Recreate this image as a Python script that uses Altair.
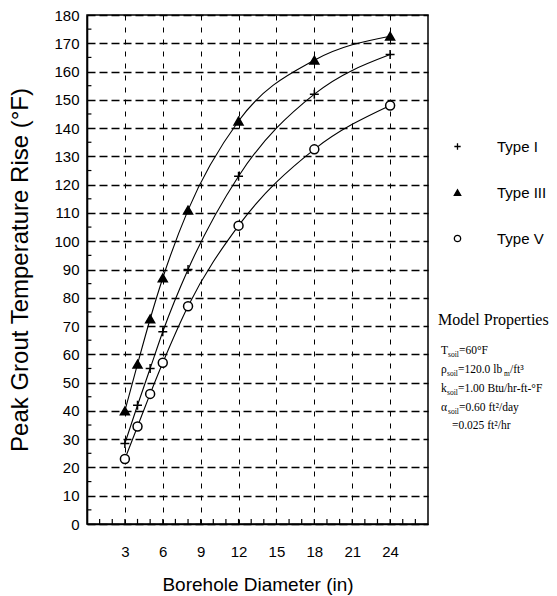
import altair as alt
import pandas as pd

# ---- data ----
diameters = [3, 4, 5, 6, 8, 12, 18, 24]
type_i = [28.5, 42, 55, 68, 90, 123, 152, 166]
type_iii = [40, 56.5, 72.5, 87, 111, 142.5, 164, 172.5]
type_v = [23, 34.5, 46, 57, 77, 105.5, 132.5, 148]
series_names = ["Type I", "Type III", "Type V"]

x_tick_values = [3, 6, 9, 12, 15, 18, 21, 24]
y_tick_values = [0, 10, 20, 30, 40, 50, 60, 70, 80, 90, 100, 110, 120, 130, 140, 150, 160, 170, 180]
x_minor_ticks = [1, 2, 3, 4, 5, 6, 7, 8, 9, 10, 11, 12, 13, 14, 15, 16, 17, 18, 19, 20, 21, 22, 23, 24, 25, 26]
y_minor_ticks = [5, 15, 25, 35, 45, 55, 65, 75, 85, 95, 105, 115, 125, 135, 145, 155, 165, 175]

rows = []
for name, vals in zip(series_names, [type_i, type_iii, type_v]):
    for d, v in zip(diameters, vals):
        rows.append({"type": name, "d": d, "rise": v})
df = pd.DataFrame(rows)

SANS = "Liberation Sans"
SERIF = "Liberation Serif"
W, H = 341, 509

xscale = alt.Scale(domain=[0, 27], nice=False, zero=False)
yscale = alt.Scale(domain=[0, 180], nice=False, zero=False)

plus_path = "M-1,0H1M0,-1V1"
shape_scale = alt.Scale(domain=series_names, range=[plus_path, "triangle-up", "circle"])
fill_scale = alt.Scale(domain=series_names, range=["transparent", "black", "white"])
stroke_scale = alt.Scale(domain=series_names, range=["black", "black", "black"])
legend = alt.Legend(
    title=None, orient="none", legendX=363, legendY=124, direction="vertical",
    labelFont=SANS, labelFontSize=15, labelColor="black", labelOffset=32,
    rowPadding=30, symbolSize=40, symbolStrokeColor="black", symbolStrokeWidth=1.3,
)

x_axis = alt.Axis(
    values=x_tick_values, tickCount=30, grid=True, gridDash=[5, 7], gridColor="black",
    gridWidth=1, tickSize=0, labelPadding=20, labelFont=SANS, labelFontSize=15,
    labelColor="black", labelOverlap=False,
    title="Borehole Diameter (in)", titleFont=SANS, titleFontSize=19,
    titleFontWeight="normal", titleColor="black", titlePadding=16,
    domainColor="black", domainWidth=1.6,
)
y_axis = alt.Axis(
    values=y_tick_values, tickCount=40, grid=True, gridDash=[8, 4], gridColor="black",
    gridWidth=1.4, tickSize=0, labelPadding=8, labelFont=SANS, labelFontSize=15,
    labelColor="black", labelOverlap=False,
    title="Peak Grout Temperature Rise (°F)", titleFont=SANS, titleFontSize=24,
    titleFontWeight="normal", titleColor="black", titlePadding=21,
    domainColor="black", domainWidth=1.6,
)

lines = alt.Chart(df).mark_line(interpolate="monotone", color="black", strokeWidth=1.1).encode(
    x=alt.X("d:Q", scale=xscale, axis=x_axis),
    y=alt.Y("rise:Q", scale=yscale, axis=y_axis),
    detail="type:N",
)
points = alt.Chart(df).mark_point(size=80, strokeWidth=1.5, opacity=1).encode(
    x=alt.X("d:Q", scale=xscale, axis=x_axis),
    y=alt.Y("rise:Q", scale=yscale, axis=y_axis),
    shape=alt.Shape("type:N", scale=shape_scale, legend=legend),
    fill=alt.Fill("type:N", scale=fill_scale, legend=legend),
    stroke=alt.Stroke("type:N", scale=stroke_scale, legend=legend),
)

# minor ticks drawn inward
xt = pd.DataFrame({"v": x_minor_ticks})
yt = pd.DataFrame({"v": y_minor_ticks})
xticks = alt.Chart(xt).mark_rule(color="black", strokeWidth=1.2).encode(
    x=alt.X("v:Q", scale=xscale, axis=x_axis),
    y=alt.YDatum(0, type="quantitative", scale=yscale, axis=y_axis),
    y2=alt.Y2Datum(1.8),
)
yticks = alt.Chart(yt).mark_rule(color="black", strokeWidth=1.2).encode(
    y=alt.Y("v:Q", scale=yscale, axis=y_axis),
    x=alt.XDatum(0, type="quantitative", scale=xscale, axis=x_axis),
    x2=alt.X2Datum(0.35),
)

# Model Properties annotation (pixel offsets relative to plot origin)
def txt(s, x, y, size, font=SERIF):
    return alt.Chart(pd.DataFrame({"t": [s]})).mark_text(
        align="left", baseline="middle", font=font, fontSize=size, color="black"
    ).encode(text="t:N", x=alt.value(x), y=alt.value(y))

MAIN = 11.5
SUB = 7.5
ann = [
    txt("Model Properties", 351, 305, 16),
    txt("T", 354, 336, MAIN), txt("soil", 361, 340, SUB), txt("=60°F", 372, 336, MAIN),
    txt("ρ", 354, 355, MAIN), txt("soil", 360, 359, SUB), txt("=120.0 lb", 371, 355, MAIN),
    txt("m", 417, 359, SUB), txt("/ft³", 423, 355, MAIN),
    txt("k", 354, 374, MAIN), txt("soil", 360, 378, SUB), txt("=1.00 Btu/hr-ft-°F", 371, 374, MAIN),
    txt("α", 354, 393, MAIN), txt("soil", 361, 397, SUB), txt("=0.60 ft²/day", 372, 393, MAIN),
    txt("=0.025 ft²/hr", 365, 411, MAIN),
]

chart = alt.layer(lines, xticks, yticks, points, *ann).properties(
    width=W, height=H,
    autosize=alt.AutoSizeParams(type="none"),
    padding={"left": 87, "top": 15, "right": 129, "bottom": 72},
    background="white",
).configure_view(stroke="black", strokeWidth=1.5)

chart.save("out.html", embed_options={"renderer": "svg", "actions": False})
